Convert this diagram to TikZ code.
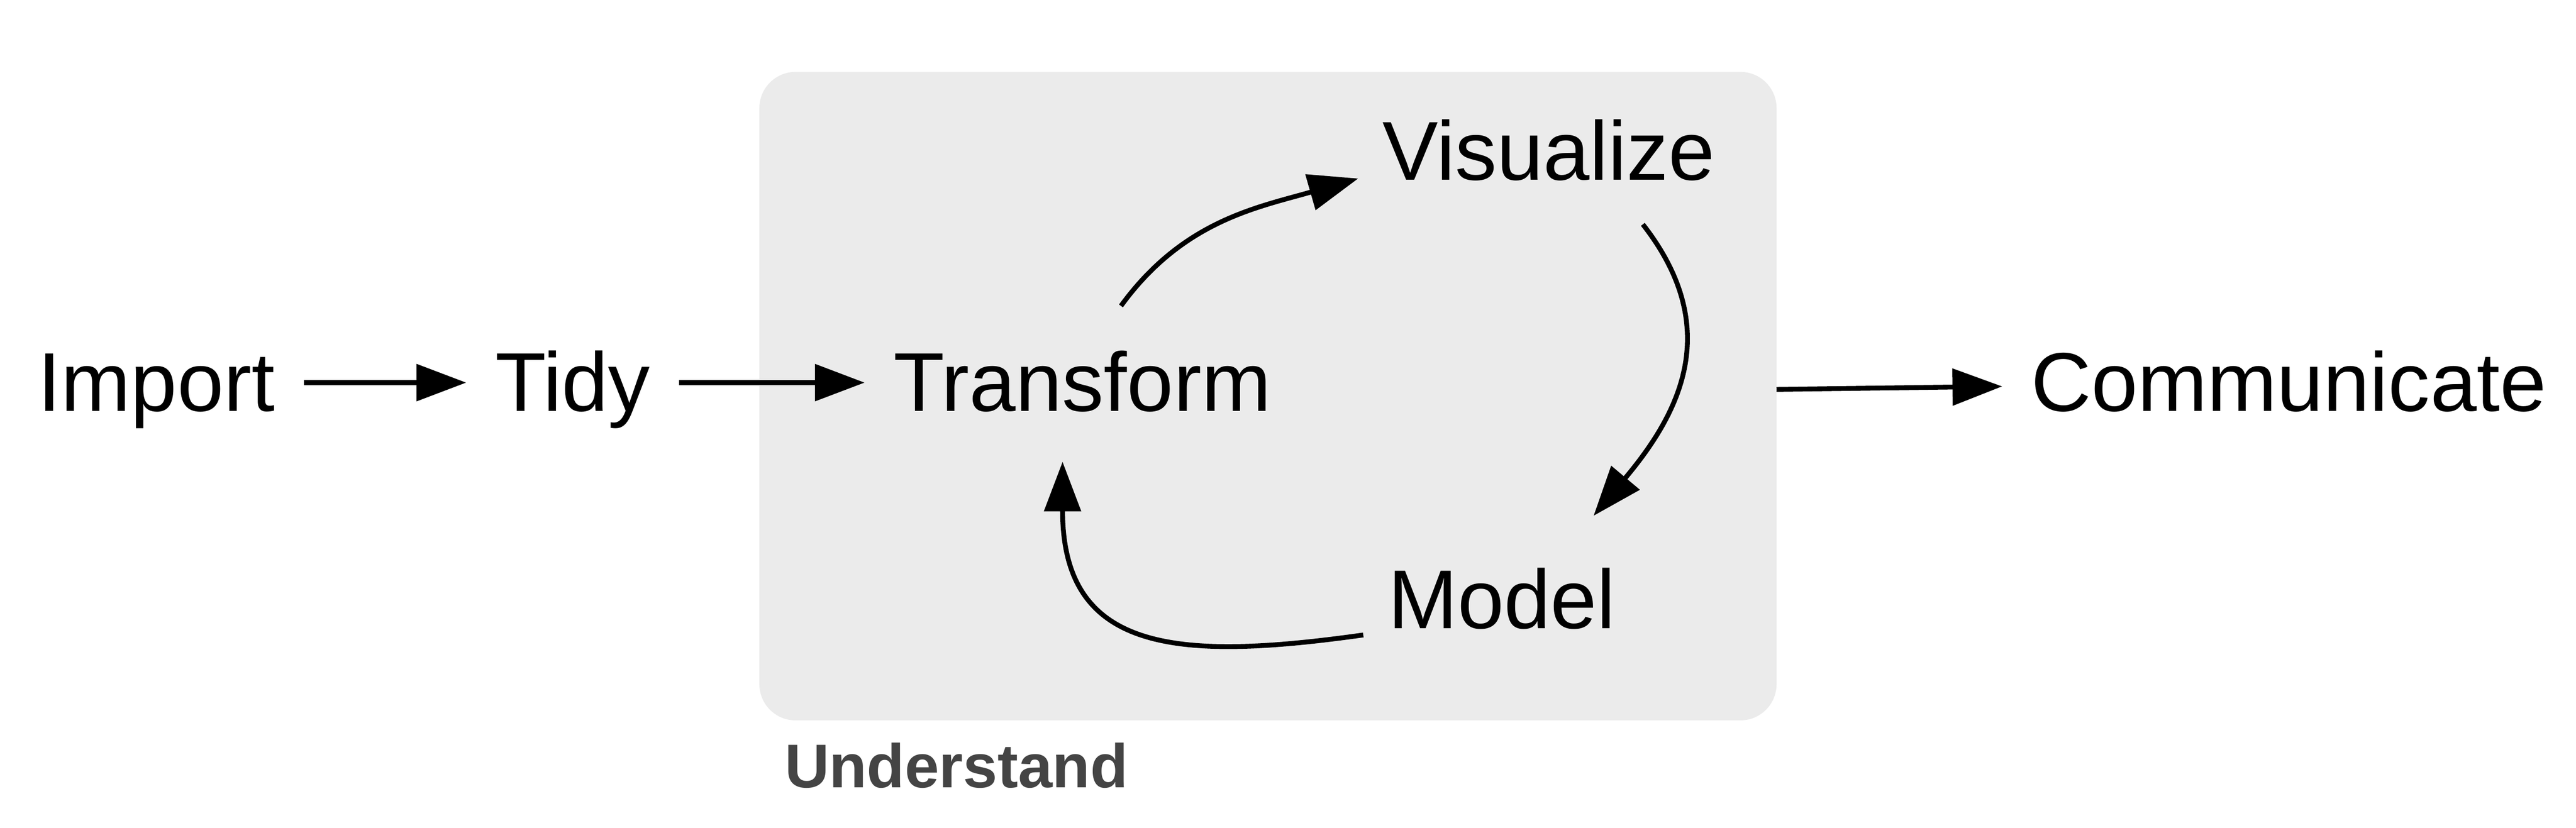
\documentclass[tikz,border=0pt]{standalone}
\usepackage{fontspec}
\setmainfont{Liberation Sans}
\usetikzlibrary{arrows.meta}

\definecolor{boxgrey}{RGB}{235,235,235}
\definecolor{labelgrey}{RGB}{68,68,68}

\tikzset{every picture/.style={line width=1pt}}
\tikzset{
  stage/.style={font=\fontsize{17.3}{20}\selectfont, inner sep=0pt, outer sep=6pt,
    text height=11.8pt, text depth=0pt, anchor=base},
  loopbox/.style={rectangle, rounded corners=7.5pt, fill=boxgrey, draw=none,
    minimum width=210.7pt, minimum height=134.4pt, inner sep=0pt, outer sep=0pt},
  flow/.style={-{Triangle[length=10.3pt,width=7.5pt]}, line width=1pt}
}

\begin{document}
\begin{tikzpicture}[x=1pt,y=1pt]
            \useasboundingbox (0,0) rectangle (533.6,171.6);

            %Shape: Rectangle
            \node [loopbox] (loop) at (262.65,89.5) {};

            % Text Node
            \node [stage] (import) at (32.4,86.4) {Import};
            % Text Node
            \node [stage] (tidy) at (118.6,86.4) {Tidy};
            % Text Node
            \node [stage] (trans) at (224.2,86.4) {Transform};
            % Text Node
            \node [stage] (vis) at (320.8,134.3) {Visualize};
            % Text Node
            \node [stage] (model) at (311.1,41.4) {Model};
            % Text Node
            \node [stage] (comm) at (474.1,86.4) {Communicate};
            % Text Node
            \node [anchor=base, inner sep=0pt, text=labelgrey, font=\bfseries\fontsize{12.8}{15}\selectfont] (understand) at (198.1,8.4) {Understand};

            %Straight Lines
            \draw [flow] (import) -- (tidy);
            %Straight Lines
            \draw [flow] (tidy) -- (trans);
            %Straight Lines
            \draw [flow] (loop) -- (comm);

            %Curve Lines
            \draw [flow] ([xshift=8pt,yshift=4pt]trans.north) to [out=54,in=196] ([xshift=1pt,yshift=-5.6pt]vis.west);
            %Curve Lines
            \draw [flow] ([xshift=19.5pt,yshift=-3.2pt]vis.south) to [out=-52,in=50,looseness=1.15] ([xshift=19pt,yshift=5.5pt]model.north);
            %Curve Lines
            \draw [flow] ([xshift=0.85pt,yshift=-7.3pt]model.west) to [out=188,in=-90,looseness=1.4] ([xshift=-4.1pt,yshift=-4.5pt]trans.south);
\end{tikzpicture}
\end{document}
